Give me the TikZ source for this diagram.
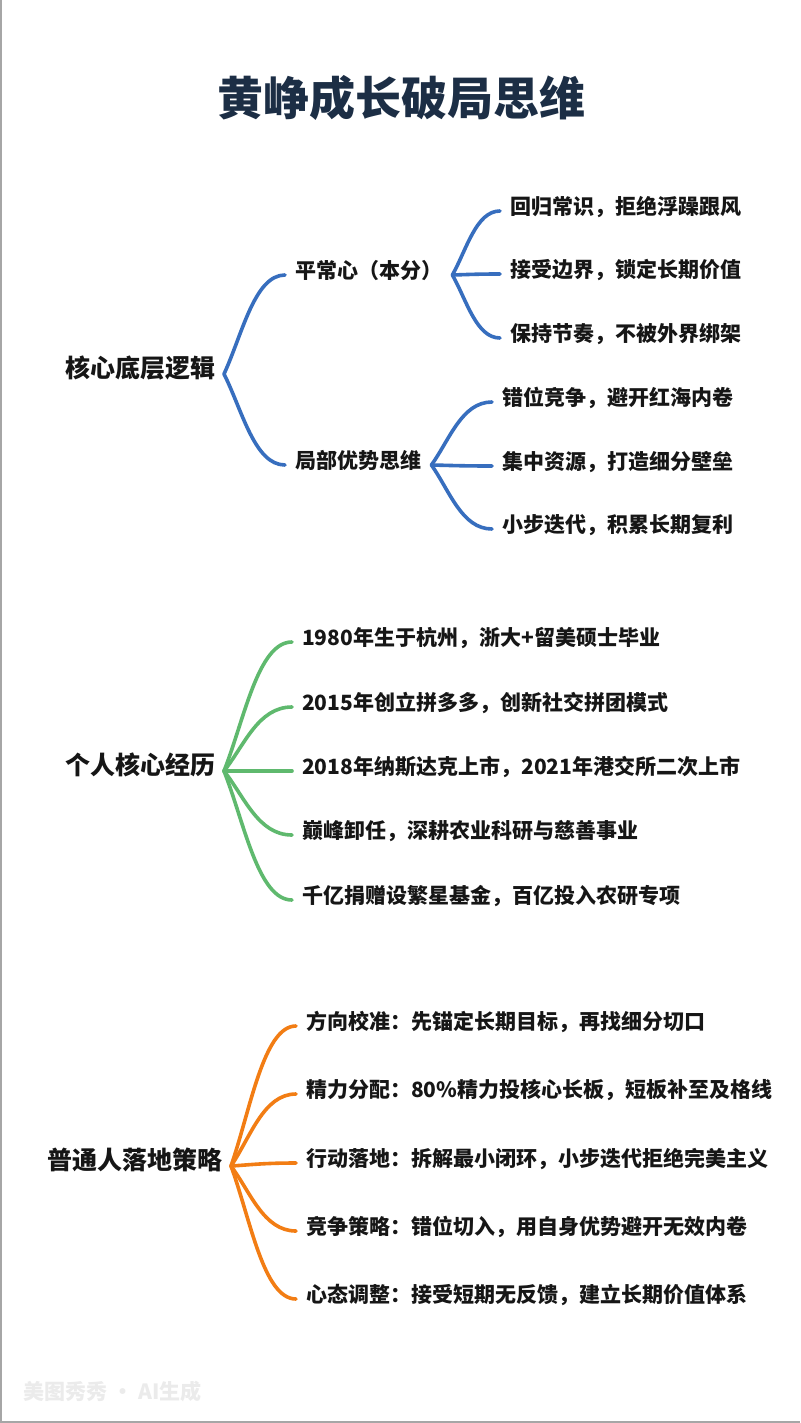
\documentclass[tikz,border=0pt]{standalone}
\usepackage{fontspec}
\setmainfont{Noto Sans CJK SC}
\usetikzlibrary{calc}
\definecolor{titlec}{RGB}{28,46,69}
\definecolor{bl}{RGB}{55,110,190}
\definecolor{gr}{RGB}{95,185,110}
\definecolor{og}{RGB}{242,125,20}
\definecolor{txt}{RGB}{22,22,22}
\tikzset{
  rootnode/.style={anchor=east, inner xsep=8pt, inner ysep=0pt, font=\fontsize{25}{30}\selectfont\bfseries, text=txt, text height=0.83em, text depth=0.07em},
  leafnode/.style={anchor=west, inner xsep=10pt, inner ysep=0pt, font=\fontsize{21}{25}\selectfont\bfseries, text=txt, text height=0.83em, text depth=0.07em},
  conn/.style={line width=3.6pt, line cap=round},
}
\newcommand\brc[3]{\draw[conn,#1] let \p1=(#2), \p2=(#3) in (\p1) .. controls ({\x1+0.3*(\x2-\x1)},{\y1+0.4*(\y2-\y1)}) and ({\x1+0.5*(\x2-\x1)},{\y2}) .. (\p2);}
\begin{document}
\begin{tikzpicture}[x=1pt,y=-1pt]
\fill[white] (0,0) rectangle (800,1423);
\useasboundingbox (0,0) rectangle (800,1423);
\draw[black!35, line width=2pt] (1,1423) -- (1,0);
\draw[black!35, line width=2pt] (0,1422) -- (800,1422);

\node[font=\fontsize{46}{52}\selectfont\bfseries, text=titlec] (title) at (401,98) {黄峥成长破局思维};

% Section 1
\node[rootnode] (r1) at (224,374) {核心底层逻辑};
\node[leafnode] (a1) at (285,275) {平常心（本分）};
\node[leafnode] (a2) at (285,465) {局部优势思维};
\node[leafnode] (a11) at (500,211) {回归常识，拒绝浮躁跟风};
\node[leafnode] (a12) at (500,274) {接受边界，锁定长期价值};
\node[leafnode] (a13) at (500,338) {保持节奏，不被外界绑架};
\node[leafnode] (a21) at (492,402) {错位竞争，避开红海内卷};
\node[leafnode] (a22) at (492,466) {集中资源，打造细分壁垒};
\node[leafnode] (a23) at (492,529) {小步迭代，积累长期复利};
\brc{bl}{r1.east}{a1.west}
\brc{bl}{r1.east}{a2.west}
\brc{bl}{a1.east}{a11.west}
\brc{bl}{a1.east}{a12.west}
\brc{bl}{a1.east}{a13.west}
\brc{bl}{a2.east}{a21.west}
\brc{bl}{a2.east}{a22.west}
\brc{bl}{a2.east}{a23.west}

% Section 2
\node[rootnode] (r2) at (224,771) {个人核心经历};
\node[leafnode] (b1) at (292,642) {1980年生于杭州，浙大+留美硕士毕业};
\node[leafnode] (b2) at (292,707) {2015年创立拼多多，创新社交拼团模式};
\node[leafnode] (b3) at (292,771) {2018年纳斯达克上市，2021年港交所二次上市};
\node[leafnode] (b4) at (292,835) {巅峰卸任，深耕农业科研与慈善事业};
\node[leafnode] (b5) at (292,900) {千亿捐赠设繁星基金，百亿投入农研专项};
\foreach \k in {b1,b2,b3,b4,b5}{\brc{gr}{r2.east}{\k.west}}

% Section 3
\node[rootnode] (r3) at (231,1166) {普通人落地策略};
\node[leafnode] (c1) at (296,1026) {方向校准：先锚定长期目标，再找细分切口};
\node[leafnode] (c2) at (296,1094) {精力分配：80\%精力投核心长板，短板补至及格线};
\node[leafnode] (c3) at (296,1163) {行动落地：拆解最小闭环，小步迭代拒绝完美主义};
\node[leafnode] (c4) at (296,1231) {竞争策略：错位切入，用自身优势避开无效内卷};
\node[leafnode] (c5) at (296,1299) {心态调整：接受短期无反馈，建立长期价值体系};
\foreach \k in {c1,c2,c3,c4,c5}{\brc{og}{r3.east}{\k.west}}

\node[anchor=west, font=\fontsize{21}{25}\selectfont\bfseries, text=black!8] (wm) at (20,1391) {美图秀秀 · AI生成};
\end{tikzpicture}
\end{document}
